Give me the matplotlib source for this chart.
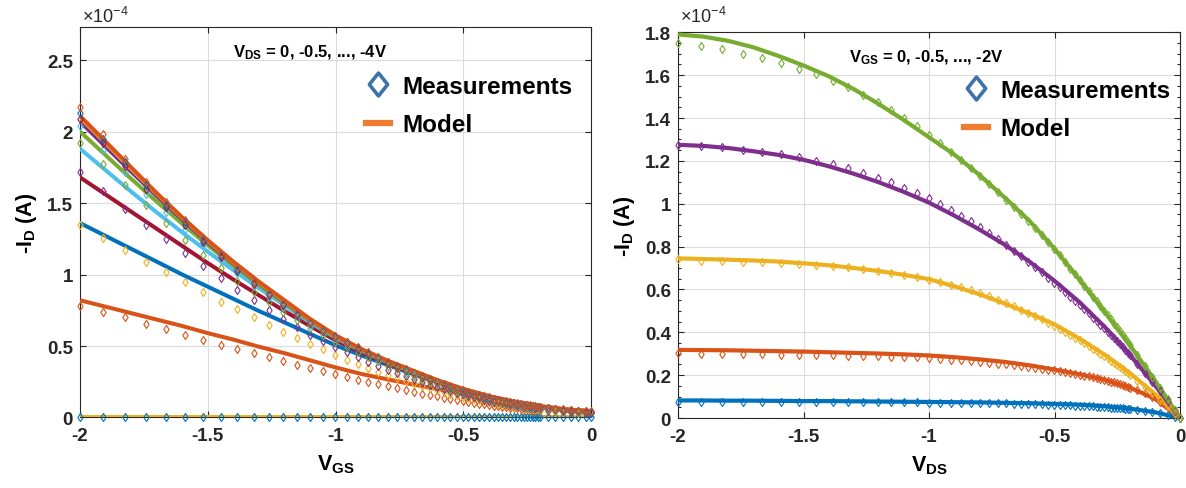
import matplotlib
matplotlib.use("Agg")
import matplotlib.pyplot as plt
from matplotlib.lines import Line2D
from matplotlib.path import Path
from matplotlib.ticker import FixedLocator, MultipleLocator, FuncFormatter

plt.rcParams['font.family'] = ['Liberation Sans', 'DejaVu Sans']
plt.rcParams['font.weight'] = 'bold'
plt.rcParams['axes.labelweight'] = 'bold'
plt.rcParams['mathtext.default'] = 'regular'
plt.rcParams['axes.unicode_minus'] = False

# ---------------- data (currents in units of 1e-4 A) ----------------
# sweep voltage of the measured points (V_GS on the left, V_DS on the right)
SWEEP_MEAS = [-2.000, -1.910, -1.824, -1.742, -1.664, -1.589, -1.517, -1.449, -1.384, -1.321,
              -1.262, -1.205, -1.151, -1.099, -1.049, -1.002, -0.957, -0.914, -0.873, -0.834,
              -0.796, -0.760, -0.726, -0.693, -0.662, -0.632, -0.604, -0.577, -0.551, -0.526,
              -0.502, -0.480, -0.458, -0.437, -0.418, -0.399, -0.381, -0.364, -0.347, -0.332,
              -0.317, -0.302, -0.289, -0.276, -0.263, -0.251, -0.240, -0.229, -0.219, -0.209,
              -0.200, -0.170, -0.140, -0.110, -0.080, -0.050, -0.020, 0.000]
# sweep voltage of the model curves
SWEEP_MODEL = [-2.0, -1.9, -1.8, -1.7, -1.6, -1.5, -1.4, -1.3, -1.2, -1.1, -1.0,
               -0.9, -0.8, -0.7, -0.6, -0.5, -0.4, -0.3, -0.2, -0.1, 0.0]

# ---- left panel: -I_D vs V_GS for V_DS = 0, -0.5, ..., -4 V ----
L_MEAS_VDS_0 = [0.0, 0.0, 0.0, 0.0, 0.0, 0.0, 0.0, 0.0, 0.0, 0.0, 0.0, 0.0, 0.0, 0.0, 0.0,
                0.0, 0.0, 0.0, 0.0, 0.0, 0.0, 0.0, 0.0, 0.0, 0.0, 0.0, 0.0, 0.0, 0.0, 0.0,
                0.0, 0.0, 0.0, 0.0, 0.0, 0.0, 0.0, 0.0, 0.0, 0.0, 0.0, 0.0, 0.0, 0.0, 0.0,
                0.0, 0.0, 0.0, 0.0, 0.0, 0.0, 0.0, 0.0, 0.0, 0.0, 0.0, 0.0, 0.0]
L_MEAS_VDS_M05 = [0.78, 0.74, 0.70, 0.656, 0.62, 0.58, 0.545, 0.51, 0.48, 0.45,
                  0.42, 0.392, 0.368, 0.347, 0.325, 0.302, 0.283, 0.265, 0.248, 0.232,
                  0.217, 0.203, 0.19, 0.178, 0.167, 0.157, 0.147, 0.138, 0.13, 0.122,
                  0.115, 0.109, 0.103, 0.097, 0.092, 0.087, 0.083, 0.079, 0.075, 0.072,
                  0.069, 0.066, 0.063, 0.061, 0.059, 0.057, 0.055, 0.053, 0.051, 0.05,
                  0.049, 0.046, 0.043, 0.041, 0.04, 0.039, 0.038, 0.038]
L_MEAS_VDS_M1 = [1.35, 1.255, 1.17, 1.09, 1.02, 0.945, 0.875, 0.81, 0.76, 0.70,
                 0.65, 0.60, 0.556, 0.515, 0.478, 0.44, 0.405, 0.375, 0.347, 0.321,
                 0.297, 0.276, 0.256, 0.238, 0.221, 0.205, 0.191, 0.178, 0.166, 0.155,
                 0.145, 0.136, 0.127, 0.119, 0.112, 0.105, 0.099, 0.094, 0.089, 0.084,
                 0.08, 0.076, 0.073, 0.07, 0.067, 0.064, 0.062, 0.06, 0.058, 0.056,
                 0.054, 0.049, 0.044, 0.04, 0.036, 0.033, 0.03, 0.029]
L_MEAS_VDS_M15 = [1.72, 1.587, 1.457, 1.35, 1.248, 1.15, 1.057, 0.975, 0.894, 0.82,
                  0.754, 0.69, 0.633, 0.58, 0.535, 0.492, 0.455, 0.42, 0.39, 0.36,
                  0.333, 0.309, 0.287, 0.266, 0.247, 0.229, 0.213, 0.198, 0.184, 0.172,
                  0.161, 0.151, 0.141, 0.133, 0.125, 0.118, 0.111, 0.105, 0.099, 0.094,
                  0.09, 0.086, 0.082, 0.078, 0.075, 0.072, 0.069, 0.067, 0.065, 0.063,
                  0.061, 0.055, 0.05, 0.045, 0.041, 0.037, 0.034, 0.032]
L_MEAS_VDS_M2 = [1.92, 1.77, 1.625, 1.485, 1.36, 1.245, 1.14, 1.045, 0.957, 0.875,
                 0.805, 0.74, 0.68, 0.625, 0.575, 0.53, 0.49, 0.455, 0.422, 0.392,
                 0.363, 0.337, 0.313, 0.291, 0.27, 0.251, 0.233, 0.217, 0.202, 0.188,
                 0.176, 0.165, 0.154, 0.145, 0.136, 0.128, 0.121, 0.114, 0.108, 0.102,
                 0.097, 0.093, 0.089, 0.085, 0.081, 0.078, 0.075, 0.072, 0.07, 0.068,
                 0.066, 0.06, 0.054, 0.049, 0.044, 0.04, 0.037, 0.035]
L_MEAS_VDS_M25 = [2.04, 1.87, 1.715, 1.565, 1.44, 1.32, 1.21, 1.10, 1.01, 0.92,
                  0.845, 0.775, 0.71, 0.65, 0.598, 0.553, 0.513, 0.476, 0.441, 0.409,
                  0.379, 0.352, 0.327, 0.304, 0.282, 0.262, 0.243, 0.226, 0.21, 0.196,
                  0.184, 0.172, 0.161, 0.151, 0.142, 0.134, 0.126, 0.119, 0.113, 0.107,
                  0.102, 0.097, 0.093, 0.089, 0.085, 0.082, 0.079, 0.076, 0.073, 0.071,
                  0.069, 0.062, 0.056, 0.051, 0.046, 0.042, 0.039, 0.037]
L_MEAS_VDS_M3 = [2.09, 1.92, 1.76, 1.60, 1.47, 1.345, 1.23, 1.12, 1.025, 0.935,
                 0.855, 0.785, 0.718, 0.658, 0.606, 0.56, 0.52, 0.482, 0.447, 0.414,
                 0.384, 0.356, 0.331, 0.308, 0.285, 0.265, 0.246, 0.229, 0.213, 0.198,
                 0.186, 0.174, 0.163, 0.153, 0.144, 0.136, 0.128, 0.121, 0.115, 0.109,
                 0.104, 0.099, 0.095, 0.091, 0.087, 0.084, 0.081, 0.078, 0.075, 0.073,
                 0.071, 0.064, 0.058, 0.053, 0.048, 0.044, 0.041, 0.039]
L_MEAS_VDS_M35 = [2.13, 1.95, 1.785, 1.625, 1.49, 1.365, 1.245, 1.135, 1.035, 0.945,
                  0.865, 0.795, 0.725, 0.665, 0.612, 0.567, 0.527, 0.487, 0.452, 0.418,
                  0.388, 0.36, 0.335, 0.311, 0.288, 0.268, 0.248, 0.231, 0.215, 0.2,
                  0.188, 0.176, 0.165, 0.155, 0.146, 0.138, 0.13, 0.123, 0.116, 0.11,
                  0.105, 0.1, 0.096, 0.092, 0.088, 0.085, 0.082, 0.079, 0.076, 0.074,
                  0.072, 0.065, 0.059, 0.054, 0.049, 0.045, 0.042, 0.04]
L_MEAS_VDS_M4 = [2.17, 1.98, 1.81, 1.645, 1.505, 1.38, 1.255, 1.145, 1.045, 0.95,
                 0.87, 0.80, 0.73, 0.67, 0.615, 0.57, 0.53, 0.49, 0.455, 0.42,
                 0.39, 0.362, 0.337, 0.313, 0.29, 0.27, 0.25, 0.233, 0.217, 0.202,
                 0.19, 0.178, 0.167, 0.157, 0.148, 0.14, 0.132, 0.125, 0.118, 0.112,
                 0.107, 0.102, 0.098, 0.094, 0.09, 0.087, 0.084, 0.081, 0.078, 0.076,
                 0.074, 0.067, 0.061, 0.056, 0.051, 0.047, 0.044, 0.042]

L_MODEL_VDS_0 = [0.0, 0.0, 0.0, 0.0, 0.0, 0.0, 0.0, 0.0, 0.0, 0.0, 0.0,
                 0.0, 0.0, 0.0, 0.0, 0.0, 0.0, 0.0, 0.0, 0.0, 0.0]
L_MODEL_VDS_M05 = [0.82, 0.775, 0.73, 0.685, 0.64, 0.59, 0.545, 0.495, 0.45, 0.40, 0.35,
                   0.305, 0.268, 0.232, 0.198, 0.165, 0.132, 0.102, 0.077, 0.057, 0.044]
L_MODEL_VDS_M1 = [1.36, 1.27, 1.18, 1.09, 1.00, 0.915, 0.83, 0.745, 0.665, 0.585, 0.505,
                  0.435, 0.37, 0.305, 0.245, 0.19, 0.143, 0.103, 0.072, 0.047, 0.03]
L_MODEL_VDS_M15 = [1.68, 1.56, 1.44, 1.32, 1.20, 1.08, 0.965, 0.855, 0.745, 0.64, 0.54,
                   0.455, 0.38, 0.312, 0.246, 0.188, 0.141, 0.102, 0.073, 0.05, 0.038]
L_MODEL_VDS_M2 = [1.88, 1.73, 1.58, 1.435, 1.295, 1.16, 1.03, 0.905, 0.785, 0.665, 0.558,
                  0.468, 0.389, 0.32, 0.252, 0.192, 0.144, 0.104, 0.075, 0.052, 0.04]
L_MODEL_VDS_M25 = [2.00, 1.835, 1.67, 1.51, 1.355, 1.205, 1.062, 0.928, 0.80, 0.676, 0.565,
                   0.473, 0.393, 0.323, 0.255, 0.195, 0.146, 0.106, 0.077, 0.054, 0.042]
L_MODEL_VDS_M3 = [2.07, 1.895, 1.72, 1.55, 1.385, 1.225, 1.078, 0.94, 0.81, 0.682, 0.569,
                  0.476, 0.396, 0.326, 0.257, 0.197, 0.148, 0.108, 0.078, 0.055, 0.043]
L_MODEL_VDS_M35 = [2.10, 1.92, 1.74, 1.565, 1.395, 1.235, 1.085, 0.945, 0.815, 0.685, 0.572,
                   0.478, 0.398, 0.328, 0.258, 0.198, 0.149, 0.109, 0.079, 0.056, 0.044]
L_MODEL_VDS_M4 = [2.11, 1.93, 1.75, 1.57, 1.40, 1.24, 1.09, 0.95, 0.82, 0.69, 0.575,
                  0.48, 0.40, 0.33, 0.26, 0.20, 0.15, 0.11, 0.08, 0.057, 0.045]

# ---- right panel: -I_D vs V_DS for V_GS = 0, -0.5, ..., -2 V ----
R_MEAS_VGS_0 = [0.077, 0.076, 0.076, 0.076, 0.076, 0.075, 0.075, 0.075, 0.075, 0.074,
                0.074, 0.074, 0.073, 0.073, 0.073, 0.072, 0.072, 0.071, 0.071, 0.07,
                0.07, 0.069, 0.069, 0.068, 0.067, 0.066, 0.066, 0.065, 0.064, 0.063,
                0.062, 0.061, 0.06, 0.059, 0.058, 0.057, 0.056, 0.055, 0.054, 0.053,
                0.052, 0.051, 0.05, 0.049, 0.048, 0.047, 0.046, 0.045, 0.044, 0.043,
                0.042, 0.038, 0.034, 0.029, 0.023, 0.016, 0.007, 0.0]
R_MEAS_VGS_M05 = [0.302, 0.300, 0.299, 0.298, 0.297, 0.296, 0.295, 0.294, 0.293, 0.291,
                  0.289, 0.288, 0.287, 0.286, 0.284, 0.281, 0.277, 0.273, 0.27, 0.266,
                  0.262, 0.258, 0.254, 0.25, 0.246, 0.242, 0.238, 0.234, 0.23, 0.226,
                  0.222, 0.218, 0.214, 0.21, 0.206, 0.202, 0.198, 0.194, 0.19, 0.186,
                  0.182, 0.178, 0.174, 0.17, 0.166, 0.162, 0.158, 0.154, 0.15, 0.146,
                  0.142, 0.13, 0.116, 0.098, 0.077, 0.051, 0.021, 0.0]
R_MEAS_VGS_M1 = [0.742, 0.734, 0.734, 0.73, 0.727, 0.723, 0.719, 0.716, 0.708, 0.703,
                 0.695, 0.687, 0.677, 0.667, 0.656, 0.644, 0.633, 0.622, 0.61, 0.597,
                 0.583, 0.568, 0.553, 0.537, 0.522, 0.506, 0.49, 0.475, 0.46, 0.445,
                 0.43, 0.416, 0.402, 0.388, 0.375, 0.362, 0.349, 0.337, 0.324, 0.313,
                 0.301, 0.289, 0.279, 0.268, 0.258, 0.248, 0.238, 0.229, 0.22, 0.211,
                 0.203, 0.175, 0.146, 0.116, 0.085, 0.054, 0.022, 0.0]
R_MEAS_VGS_M15 = [1.274, 1.271, 1.263, 1.252, 1.243, 1.232, 1.22, 1.20, 1.185, 1.167,
                  1.143, 1.12, 1.10, 1.073, 1.05, 1.027, 0.999, 0.972, 0.945, 0.918,
                  0.89, 0.862, 0.835, 0.808, 0.781, 0.755, 0.729, 0.704, 0.68, 0.655,
                  0.632, 0.61, 0.588, 0.566, 0.546, 0.526, 0.507, 0.488, 0.469, 0.452,
                  0.435, 0.418, 0.403, 0.388, 0.372, 0.358, 0.345, 0.331, 0.318, 0.305,
                  0.294, 0.253, 0.211, 0.168, 0.124, 0.078, 0.032, 0.0]
R_MEAS_VGS_M2 = [1.75, 1.737, 1.72, 1.70, 1.678, 1.655, 1.628, 1.605, 1.574, 1.543,
                 1.507, 1.473, 1.439, 1.398, 1.361, 1.32, 1.282, 1.243, 1.205, 1.168,
                 1.13, 1.092, 1.055, 1.018, 0.983, 0.95, 0.918, 0.885, 0.853, 0.821,
                 0.79, 0.76, 0.728, 0.697, 0.67, 0.643, 0.617, 0.592, 0.567, 0.545,
                 0.523, 0.5, 0.48, 0.461, 0.441, 0.423, 0.406, 0.389, 0.373, 0.357,
                 0.343, 0.294, 0.244, 0.193, 0.141, 0.088, 0.036, 0.0]

R_MODEL_VGS_0 = [0.082, 0.082, 0.081, 0.081, 0.08, 0.079, 0.079, 0.078, 0.077, 0.076, 0.075,
                 0.074, 0.073, 0.071, 0.069, 0.066, 0.062, 0.055, 0.044, 0.027, 0.0]
R_MODEL_VGS_M05 = [0.318, 0.317, 0.316, 0.314, 0.312, 0.31, 0.307, 0.304, 0.301, 0.297, 0.292,
                   0.284, 0.274, 0.262, 0.246, 0.226, 0.204, 0.178, 0.142, 0.09, 0.0]
R_MODEL_VGS_M1 = [0.745, 0.742, 0.739, 0.735, 0.73, 0.722, 0.713, 0.70, 0.686, 0.668, 0.648,
                  0.615, 0.578, 0.535, 0.488, 0.437, 0.37, 0.295, 0.21, 0.112, 0.0]
R_MODEL_VGS_M15 = [1.275, 1.27, 1.26, 1.245, 1.228, 1.205, 1.175, 1.14, 1.10, 1.055, 1.005,
                   0.945, 0.88, 0.81, 0.73, 0.64, 0.54, 0.425, 0.295, 0.153, 0.0]
R_MODEL_VGS_M2 = [1.79, 1.78, 1.76, 1.73, 1.69, 1.645, 1.595, 1.535, 1.465, 1.39, 1.31,
                  1.23, 1.135, 1.03, 0.92, 0.79, 0.645, 0.495, 0.34, 0.175, 0.0]

# ---------------- styling ----------------
C_BLUE = '#0072BD'
C_ORANGE = '#D95319'
C_YELLOW = '#EDB120'
C_PURPLE = '#7E2F8E'
C_GREEN = '#77AC30'
C_LBLUE = '#4DBEEE'
C_DRED = '#A2142F'
C_LEG_MARK = '#3F72AA'
C_LEG_LINE = '#EE7D31'

DIAMOND = Path([(0, 1), (0.66, 0), (0, -1), (-0.66, 0), (0, 1)],
               [Path.MOVETO, Path.LINETO, Path.LINETO, Path.LINETO, Path.CLOSEPOLY])
LEG_DIAMOND = Path([(0, 1), (0.8, 0), (0, -1), (-0.8, 0), (0, 1)],
                   [Path.MOVETO, Path.LINETO, Path.LINETO, Path.LINETO, Path.CLOSEPOLY])

left_meas = [L_MEAS_VDS_0, L_MEAS_VDS_M05, L_MEAS_VDS_M1, L_MEAS_VDS_M15, L_MEAS_VDS_M2,
             L_MEAS_VDS_M25, L_MEAS_VDS_M3, L_MEAS_VDS_M35, L_MEAS_VDS_M4]
left_meas_colors = [C_BLUE, C_ORANGE, C_YELLOW, C_PURPLE, C_GREEN, C_LBLUE, C_DRED, C_BLUE, C_ORANGE]
left_model = [L_MODEL_VDS_0, L_MODEL_VDS_M05, L_MODEL_VDS_M1, L_MODEL_VDS_M15, L_MODEL_VDS_M2,
              L_MODEL_VDS_M25, L_MODEL_VDS_M3, L_MODEL_VDS_M35, L_MODEL_VDS_M4]
left_model_colors = [C_YELLOW, C_ORANGE, C_BLUE, C_DRED, C_LBLUE, C_GREEN, C_PURPLE, C_YELLOW, C_ORANGE]

right_meas = [R_MEAS_VGS_0, R_MEAS_VGS_M05, R_MEAS_VGS_M1, R_MEAS_VGS_M15, R_MEAS_VGS_M2]
right_model = [R_MODEL_VGS_0, R_MODEL_VGS_M05, R_MODEL_VGS_M1, R_MODEL_VGS_M15, R_MODEL_VGS_M2]
right_colors = [C_BLUE, C_ORANGE, C_YELLOW, C_PURPLE, C_GREEN]

fmt = FuncFormatter(lambda v, p: f"{v:g}")

fig = plt.figure(figsize=(11.86, 4.89), dpi=100)
axL = fig.add_axes([0.0675, 0.1442, 0.4309, 0.7980])
axR = fig.add_axes([0.5717, 0.1431, 0.4233, 0.7888])


def style_axes(ax, yticks, ylim, minor=None):
    ax.set_xlim(-2, 0)
    ax.set_ylim(*ylim)
    ax.xaxis.set_major_locator(FixedLocator([-2, -1.5, -1, -0.5, 0]))
    ax.yaxis.set_major_locator(FixedLocator(yticks))
    if minor:
        ax.yaxis.set_minor_locator(MultipleLocator(minor))
    ax.xaxis.set_major_formatter(fmt)
    ax.yaxis.set_major_formatter(fmt)
    ax.grid(True, color='#dcdcdc', linewidth=0.8)
    ax.set_axisbelow(True)
    ax.tick_params(which='both', direction='in', top=True, right=True,
                   width=0.8, color='#262626', labelcolor='#262626')
    ax.tick_params(which='major', length=4.5, labelsize=13.5)
    ax.tick_params(which='minor', length=2.5)
    ax.tick_params(axis='x', pad=7)
    ax.tick_params(axis='y', pad=5)
    for s in ax.spines.values():
        s.set_color('#262626')
        s.set_linewidth(0.8)


def add_legend(ax, anchor):
    h1 = Line2D([], [], ls='none', marker=LEG_DIAMOND, ms=16.5, mfc='none',
                mec=C_LEG_MARK, mew=2.6)
    h2 = Line2D([], [], color=C_LEG_LINE, lw=4.5)
    ax.legend([h1, h2], ['Measurements', 'Model'], loc='upper left',
              bbox_to_anchor=anchor, frameon=False, borderpad=0, borderaxespad=0,
              handlelength=1.0, handletextpad=0.5, labelspacing=0.62,
              prop={'size': 17.5, 'weight': 'bold'})


# ----- left panel -----
for y, c in zip(left_model, left_model_colors):
    axL.plot(SWEEP_MODEL, y, color=c, lw=2.9, solid_capstyle='butt', zorder=3)
for y, c in zip(left_meas, left_meas_colors):
    axL.plot(SWEEP_MEAS, y, ls='none', marker=DIAMOND, ms=5.8, mfc='none',
             mec=c, mew=0.8, zorder=4, clip_on=False)
style_axes(axL, [0, 0.5, 1, 1.5, 2, 2.5], (0, 2.73))
axL.set_xlabel('V$_{GS}$', fontsize=15.5, fontweight='bold', labelpad=6)
axL.set_ylabel('-I$_{D}$ (A)', fontsize=15.5, fontweight='bold', labelpad=6)
axL.text(0.2994, 0.9265, 'V$_{DS}$ = 0, -0.5, ..., -4V', transform=axL.transAxes,
         fontsize=12, fontweight='bold', ha='left', va='baseline')
axL.text(0.004, 1.014, '×10$^{-4}$', transform=axL.transAxes, fontsize=13,
         fontweight='normal', ha='left', va='baseline', color='#262626')
add_legend(axL, (0.5597, 0.8777))

# ----- right panel -----
for y, c in zip(right_model, right_colors):
    axR.plot(SWEEP_MODEL, y, color=c, lw=3.0, solid_capstyle='butt', zorder=3)
for y, c in zip(right_meas, right_colors):
    axR.plot(SWEEP_MEAS, y, ls='none', marker=DIAMOND, ms=5.8, mfc='none',
             mec=c, mew=0.8, zorder=4, clip_on=False)
style_axes(axR, [0, 0.2, 0.4, 0.6, 0.8, 1.0, 1.2, 1.4, 1.6, 1.8], (0, 1.8), minor=0.05)
axR.set_xlabel('V$_{DS}$', fontsize=15.5, fontweight='bold', labelpad=6)
axR.set_ylabel('-I$_{D}$ (A)', fontsize=15.5, fontweight='bold', labelpad=6)
axR.text(0.34, 0.926, 'V$_{GS}$ = 0, -0.5, ..., -2V', transform=axR.transAxes,
         fontsize=12, fontweight='bold', ha='left', va='baseline')
axR.text(0.004, 1.027, '×10$^{-4}$', transform=axR.transAxes, fontsize=13,
         fontweight='normal', ha='left', va='baseline', color='#262626')
add_legend(axR, (0.569, 0.879))

fig.savefig('out.png', dpi=100)
